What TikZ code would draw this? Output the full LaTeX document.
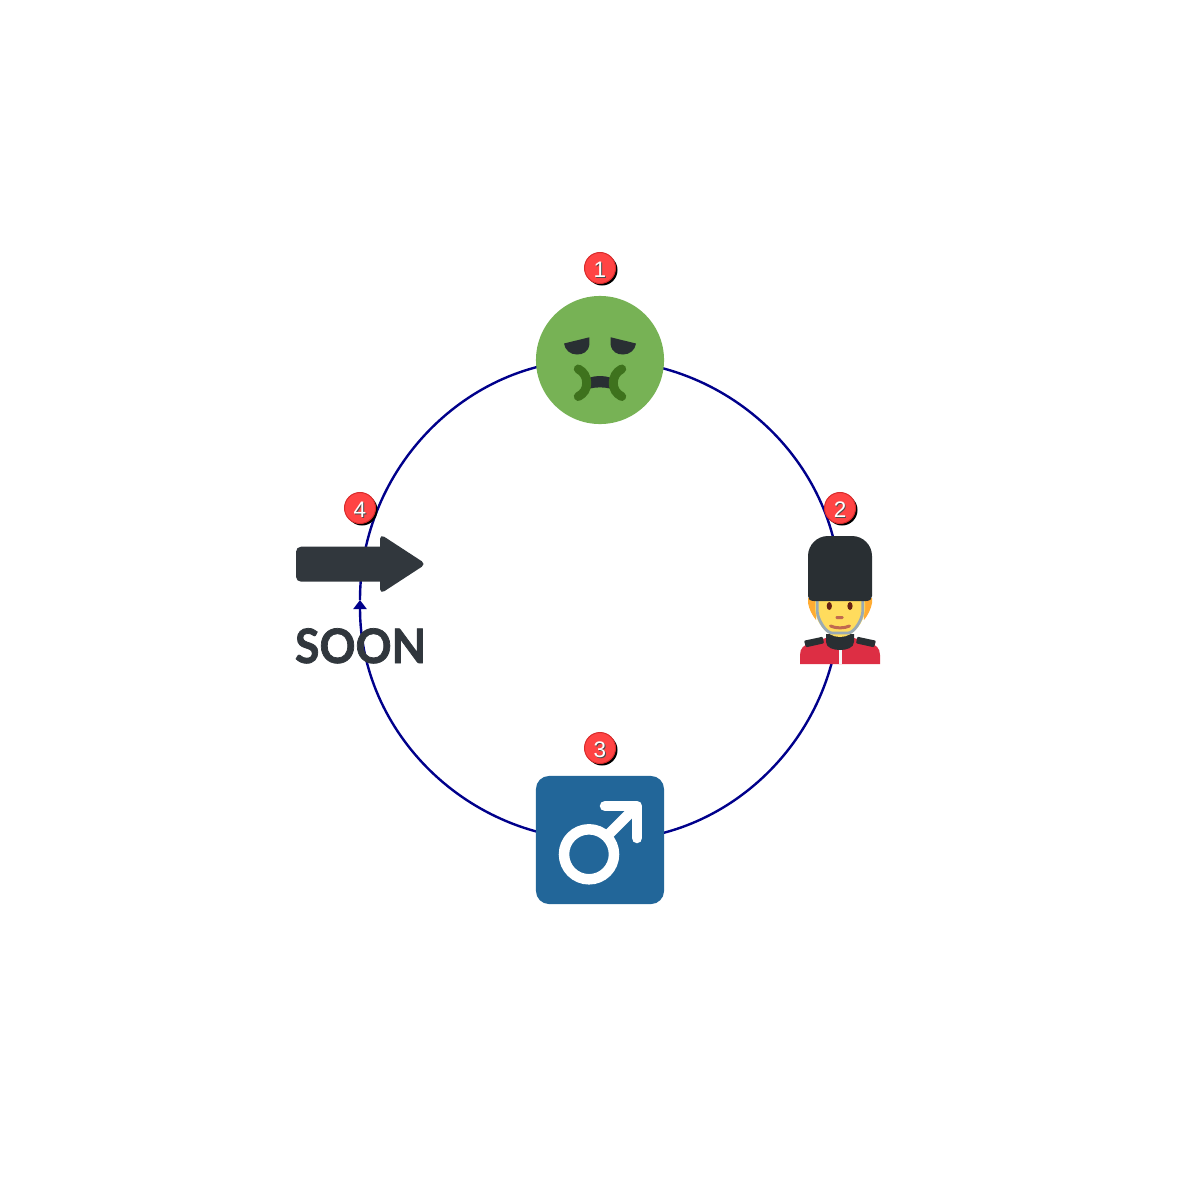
\documentclass[tikz,border=0pt]{standalone}
\usepackage{fontspec}
\setmainfont{Liberation Sans}
\newfontfamily\soonfont[BoldFeatures={FakeBold=1.6}]{Lato}
\usetikzlibrary{arrows.meta,shadows}
\definecolor{ringblue}{HTML}{00008B}
\definecolor{badgered}{HTML}{FF4444}
\definecolor{badgeedge}{HTML}{D92B2B}
\definecolor{sickgreen}{HTML}{77B255}
\definecolor{mouthgreen}{HTML}{3E721D}
\definecolor{darkgray}{HTML}{292F33}
\definecolor{soongray}{HTML}{31373D}
\definecolor{maleblue}{HTML}{226699}
\definecolor{hairorange}{HTML}{FFAC33}
\definecolor{skinyellow}{HTML}{FFDC5D}
\definecolor{strapgray}{HTML}{99AAB5}
\definecolor{coatred}{HTML}{DD2E44}
\definecolor{skinbrown}{HTML}{C1694F}
\definecolor{eyebrown}{HTML}{662113}
\newcommand{\badgenum}[1]{\raisebox{-0.4pt}[\height][0pt]{\rlap{\hspace{0.28pt}\raisebox{-0.28pt}{\textcolor{black!70}{#1}}}\textcolor{white}{#1}}}
\tikzset{
	ringline/.style={draw=ringblue, line width=0.024cm, -{Triangle[width=0.13cm,length=0.09cm]}},
	badge/.style={circle, draw=badgeedge, line width=0.01cm, fill=badgered, minimum size=0.31cm, inner sep=0pt,
		font=\fontsize{6.4}{6.4}\selectfont,
		general shadow={fill=black, shadow xshift=0.02cm, shadow yshift=-0.02cm}},
	icon/.style={inner sep=0pt, outer sep=0pt},
	mouthline/.style={draw=mouthgreen, line width=0.09cm, line cap=round},
	whitebar/.style={draw=white, line width=0.105cm, line cap=round, line join=round}
}
\begin{document}
\begin{tikzpicture}[x=0.01cm, y=-0.01cm]
	\useasboundingbox (0,0) rectangle (1200,1200);
	\coordinate (sick) at (600,360);
	\coordinate (guard) at (840,600);
	\coordinate (male) at (600,840);
	\coordinate (soon) at (360,600);

	% ring
	\draw[ringline] (sick) arc[start angle=-90, end angle=0, radius=240];
	\draw[ringline] (guard) arc[start angle=0, end angle=90, radius=240];
	\draw[ringline] (male) arc[start angle=90, end angle=180, radius=240];
	\draw[ringline] (soon) arc[start angle=180, end angle=270, radius=240];

	% sick face
	\node[icon, circle, fill=sickgreen, minimum size=1.28cm] (sickface) at (sick) {};
	\foreach \s in {1,-1}{
		\fill[darkgray] (600-\s*36,343.5) -- (600-\s*10.7,337.3) -- (600-\s*10.7,345)
			.. controls (600-\s*12,352) and (600-\s*17,354.5) .. (600-\s*23,354.5)
			.. controls (600-\s*30,354.5) and (600-\s*35,350) .. (600-\s*36,343.5) -- cycle;
	}
	\fill[darkgray] (590,377.5) .. controls (596,375.5) and (604,375.5) .. (610,377.5)
		-- (610,388.5) .. controls (604,387) and (596,387) .. (590,388.5) -- cycle;
	\foreach \s in {1,-1}{
		\draw[mouthline] (600-\s*21.7,369) .. controls (600-\s*16,372) and (600-\s*13.3,377) .. (600-\s*13.3,383)
			.. controls (600-\s*13.3,389) and (600-\s*16,393.5) .. (600-\s*21.7,396.5);
	}

	% guard
	\fill[coatred] (800,664) -- (800,655) .. controls (800,648) and (804,645) .. (810,643) -- (826,638) -- (854,638) -- (870,643)
		.. controls (876,645) and (880,648) .. (880,655) -- (880,664) -- cycle;
	\fill[white!90!strapgray] (838.5,650) rectangle (842,664);
	\fill[darkgray] (826,634) -- (826,642) .. controls (826,648) and (834,650) .. (840,650)
		.. controls (846,650) and (854,648) .. (854,642) -- (854,634) -- cycle;
	\foreach \s in {1,-1}{
		\fill[darkgray, rounded corners=0.01cm] (840-\s*36,640.7) -- (840-\s*17.3,636.7) -- (840-\s*16,643.3) -- (840-\s*34,647.3) -- cycle;
		\fill[hairorange] (840-\s*32,598) -- (840-\s*32,603) .. controls (840-\s*31,609) and (840-\s*28,615) .. (840-\s*24,620) -- (840-\s*22,598) -- cycle;
	}
	\fill[skinyellow] (815,598) -- (815,610) .. controls (816,622) and (826,637) .. (840,637)
		.. controls (854,637) and (864,622) .. (865,610) -- (865,598) -- cycle;
	\draw[strapgray, line width=0.028cm] (817.3,600) -- (817.3,612) .. controls (818,620) and (826,633) .. (832,633) -- (848,633)
		.. controls (854,633) and (862,620) .. (862.7,612) -- (862.7,600);
	\fill[darkgray] (808,596) [rounded corners=0.2cm] -- (808,536) -- (872,536) [sharp corners] -- (872,596)
		.. controls (872,599) and (870,601) .. (866,601) -- (814,601) .. controls (810,601) and (808,599) .. (808,596) -- cycle;
	\fill[eyebrown] (829.3,606) ellipse[x radius=2.6, y radius=4];
	\fill[eyebrown] (850,606) ellipse[x radius=2.6, y radius=4];
	\fill[skinbrown, rounded corners=0.012cm] (835.5,616) rectangle (843.5,619);
	\draw[skinbrown, line width=0.03cm, line cap=round] (830.5,626) .. controls (836,628.5) and (844,628.5) .. (849.5,626);

	% male sign
	\node[icon, rectangle, rounded corners=0.13cm, fill=maleblue, minimum size=1.28cm] (malebox) at (male) {};
	\draw[white, line width=0.105cm] (589,854.3) circle[radius=25];
	\draw[whitebar] (605,806) -- (637,806) -- (637,838);
	\draw[white, line width=0.105cm] (607,836) -- (637,806);

	% soon arrow
	\fill[soongray, rounded corners=0.05cm] (296,546.7) rectangle (386,581.7);
	\fill[soongray, rounded corners=0.05cm] (380,534) -- (426,564) -- (380,594) -- cycle;
	\node[icon, text=soongray, font=\soonfont\bfseries\fontsize{13.5}{13.5}\selectfont, xscale=0.94, anchor=base] (soontext) at (360.5,663) {SOON};

	% badges
	\node[badge] (badgeone) at (600,268) {\badgenum{1}};
	\node[badge] (badgetwo) at (840,508) {\badgenum{2}};
	\node[badge] (badgethree) at (600,748) {\badgenum{3}};
	\node[badge] (badgefour) at (360,508) {\badgenum{4}};
\end{tikzpicture}
\end{document}
